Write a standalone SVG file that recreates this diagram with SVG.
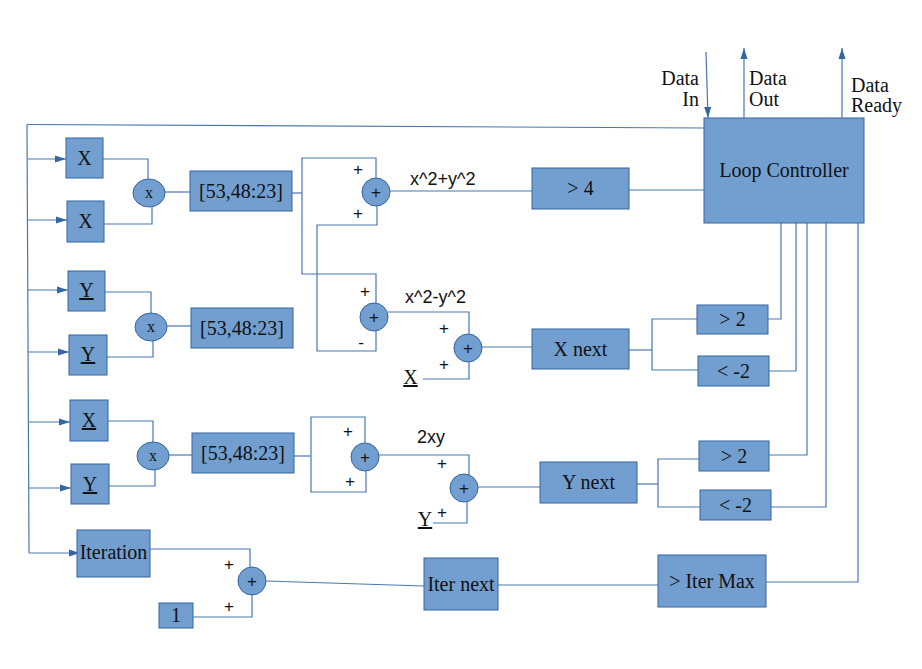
<svg xmlns="http://www.w3.org/2000/svg" width="922" height="669" viewBox="0 0 922 669">
<style>
.box{fill:#729fcf;stroke:#3465a4;stroke-width:1}
.op{fill:#729fcf;stroke:#3465a4;stroke-width:1}
.t{font-family:"Liberation Serif",serif;font-size:20px;fill:#111;text-anchor:middle}
.u{text-decoration:underline}
.m{font-family:"Liberation Serif",serif;font-size:16px;fill:#111;text-anchor:middle}
.p{font-family:"Liberation Sans",sans-serif;font-size:17px;fill:#111;text-anchor:middle}
.lbl{font-family:"Liberation Sans",sans-serif;font-size:18px;fill:#111}
.c{fill:none;stroke:#4a76b4;stroke-width:1.2}
</style>
<defs>
<marker id="ah" markerWidth="11" markerHeight="8" refX="11" refY="4" orient="auto" markerUnits="userSpaceOnUse">
<path d="M0,0.5 L11,4 L0,7.5 z" fill="#3465a4"/>
</marker>
</defs>
<rect width="922" height="669" fill="#fff"/>
<g id="connectors">
<path class="c" d="M27,124.5 L704,128"/>
<path class="c" d="M27,124.5 L29,553"/>
<path class="c" d="M28,159 H66" marker-end="url(#ah)"/>
<path class="c" d="M28,220 H67" marker-end="url(#ah)"/>
<path class="c" d="M28,290 H68" marker-end="url(#ah)"/>
<path class="c" d="M28.5,352 H69" marker-end="url(#ah)"/>
<path class="c" d="M29,422 H70" marker-end="url(#ah)"/>
<path class="c" d="M29,488 H71" marker-end="url(#ah)"/>
<path class="c" d="M29,553 H80" marker-end="url(#ah)"/>
<path class="c" d="M103,159 H148 V179"/>
<path class="c" d="M104,224 H152 V207"/>
<path class="c" d="M165,192 H190"/>
<path class="c" d="M105,292 H151 V313"/>
<path class="c" d="M107,357 H153 V341"/>
<path class="c" d="M167,326 H191"/>
<path class="c" d="M108,421 H153 V442"/>
<path class="c" d="M109,486 H155 V470"/>
<path class="c" d="M169,455 H192"/>
<path class="c" d="M292,193 H302"/>
<path class="c" d="M376,178 V158 H302 V274 H376 V303"/>
<path class="c" d="M377,206 V225 H317 V351 H376 V331"/>
<path class="c" d="M388,312 H469 V335"/>
<path class="c" d="M423,379 H469 V362"/>
<path class="c" d="M482,347 H532"/>
<path class="c" d="M390,191 H532"/>
<path class="c" d="M629,190 H704"/>
<path class="c" d="M629,350 H652"/>
<path class="c" d="M697,319 H652 V370 H698"/>
<path class="c" d="M768,319 H781 V223"/>
<path class="c" d="M769,371 H796 V223"/>
<path class="c" d="M294,456 H311"/>
<path class="c" d="M365,443 V417 H311 V492 H366 V471"/>
<path class="c" d="M379,455 H469 V475"/>
<path class="c" d="M433,523 H467 V502"/>
<path class="c" d="M478,487 H540"/>
<path class="c" d="M637,484 H658"/>
<path class="c" d="M699,459 H658 V507 H700"/>
<path class="c" d="M769,455 H807 V223"/>
<path class="c" d="M771,507 H826 V223"/>
<path class="c" d="M150,549 H250 V567"/>
<path class="c" d="M193,617 H252 V595"/>
<path class="c" d="M266,581 L424,586"/>
<path class="c" d="M498,585 H658"/>
<path class="c" d="M766,582 H858 V223"/>
<path class="c" d="M706,52 L708,118" marker-end="url(#ah)"/>
<path class="c" d="M744,118 V48" marker-end="url(#ah)"/>
<path class="c" d="M842,118 V48" marker-end="url(#ah)"/>
</g>
<g id="loop-controller"><rect class="box" x="704" y="118" width="160" height="105"/><text class="t" x="784" y="177">Loop Controller</text></g>
<g id="io-labels">
<text class="t" x="699" y="85" style="text-anchor:end">Data</text>
<text class="t" x="699" y="106" style="text-anchor:end">In</text>
<text class="t" x="749" y="85" style="text-anchor:start">Data</text>
<text class="t" x="749" y="106" style="text-anchor:start">Out</text>
<text class="t" x="851" y="92" style="text-anchor:start">Data</text>
<text class="t" x="851" y="112" style="text-anchor:start">Ready</text>
</g>
<g id="gt4"><rect class="box" x="532" y="168" width="97" height="41"/><text class="t" x="580.5" y="195">&gt; 4</text></g>
<g id="x1"><rect class="box" x="66" y="138" width="37" height="40"/><text class="t" x="84.5" y="165">X</text></g>
<g id="x2"><rect class="box" x="67" y="201" width="37" height="41"/><text class="t" x="85.5" y="228">X</text></g>
<g id="mul1"><ellipse class="op" cx="149" cy="193" rx="16" ry="14"/><text class="m" x="149" y="198">x</text></g>
<g id="b1"><rect class="box" x="190" y="171" width="102" height="40"/><text class="t" x="241" y="198">[53,48:23]</text></g>
<g id="y1"><rect class="box" x="68" y="271" width="37" height="40"/><text class="t u" x="86.5" y="297">Y</text></g>
<g id="y2"><rect class="box" x="69" y="335" width="38" height="40"/><text class="t u" x="88" y="361">Y</text></g>
<g id="mul2"><ellipse class="op" cx="151" cy="327" rx="16" ry="14"/><text class="m" x="151" y="332">x</text></g>
<g id="b2"><rect class="box" x="191" y="308" width="102" height="40"/><text class="t" x="242" y="335">[53,48:23]</text></g>
<g id="xu"><rect class="box" x="70" y="400" width="38" height="41"/><text class="t u" x="89" y="427">X</text></g>
<g id="yu"><rect class="box" x="71" y="464" width="38" height="40"/><text class="t u" x="90" y="491">Y</text></g>
<g id="mul3"><ellipse class="op" cx="153" cy="456" rx="16" ry="14"/><text class="m" x="153" y="461">x</text></g>
<g id="b3"><rect class="box" x="192" y="433" width="102" height="40"/><text class="t" x="243" y="460">[53,48:23]</text></g>
<g id="add1"><circle class="op" cx="376" cy="192" r="14"/><text class="p" x="376" y="198">+</text><text class="p" x="358" y="175">+</text><text class="p" x="358" y="219">+</text></g>
<g id="add2"><circle class="op" cx="374" cy="317" r="14"/><text class="p" x="374" y="323">+</text><text class="p" x="365" y="297">+</text><text class="p" x="361" y="348">-</text></g>
<g id="add3"><circle class="op" cx="468" cy="348" r="14"/><text class="p" x="468" y="354">+</text><text class="p" x="444" y="334">+</text><text class="p" x="444" y="370">+</text></g>
<g id="add4"><circle class="op" cx="365" cy="457" r="14"/><text class="p" x="365" y="463">+</text><text class="p" x="348" y="437">+</text><text class="p" x="350" y="487">+</text></g>
<g id="add5"><circle class="op" cx="464" cy="488" r="14"/><text class="p" x="464" y="494">+</text><text class="p" x="442" y="469">+</text><text class="p" x="442" y="518">+</text></g>
<g id="add6"><circle class="op" cx="252" cy="581" r="14"/><text class="p" x="252" y="587">+</text><text class="p" x="229" y="570">+</text><text class="p" x="229" y="612">+</text></g>
<g id="labels">
<text class="lbl" x="410" y="185">x^2+y^2</text>
<text class="lbl" x="405" y="303">x^2-y^2</text>
<text class="lbl" x="417" y="443">2xy</text>
<text class="t u" x="410.5" y="384">X</text>
<text class="t u" x="425" y="526">Y</text>
</g>
<g id="xnext"><rect class="box" x="532" y="329" width="97" height="40"/><text class="t" x="580.5" y="356">X next</text></g>
<g id="gt2a"><rect class="box" x="697" y="305" width="71" height="29"/><text class="t" x="732.5" y="326">&gt; 2</text></g>
<g id="lt2a"><rect class="box" x="698" y="356" width="71" height="30"/><text class="t" x="733.5" y="378">&lt; -2</text></g>
<g id="ynext"><rect class="box" x="540" y="462" width="97" height="41"/><text class="t" x="588.5" y="489">Y next</text></g>
<g id="gt2b"><rect class="box" x="699" y="441" width="70" height="30"/><text class="t" x="734" y="463">&gt; 2</text></g>
<g id="lt2b"><rect class="box" x="700" y="490" width="71" height="30"/><text class="t" x="735.5" y="512">&lt; -2</text></g>
<g id="iteration"><rect class="box" x="77" y="530" width="73" height="47"/><text class="t" x="113.5" y="559">Iteration</text></g>
<g id="one"><rect class="box" x="159" y="603" width="34" height="25"/><text class="t" x="176" y="622">1</text></g>
<g id="iternext"><rect class="box" x="424" y="558" width="74" height="52"/><text class="t" x="461" y="591">Iter next</text></g>
<g id="itermax"><rect class="box" x="658" y="555" width="108" height="52"/><text class="t" x="712" y="588">&gt; Iter Max</text></g>
</svg>
